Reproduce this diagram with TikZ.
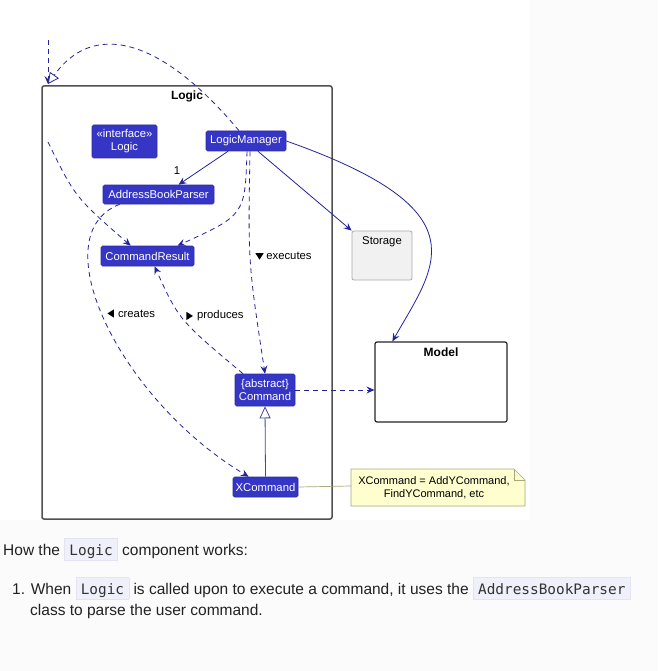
\documentclass[tikz,border=0pt]{standalone}
\usepackage{fontspec}
\setmainfont{Liberation Sans}
\newfontfamily\codefont{DejaVu Sans Mono}
\usetikzlibrary{arrows.meta,positioning,calc,shapes.geometric}

\definecolor{clsblue}{HTML}{3636C6}
\definecolor{linkblue}{HTML}{24249A}
\definecolor{pkgline}{HTML}{505050}
\definecolor{storfill}{HTML}{F1F1F1}
\definecolor{storline}{HTML}{ABABAB}
\definecolor{notefill}{HTML}{FEFECE}
\definecolor{noteline}{HTML}{A8A87C}
\definecolor{codefill}{HTML}{F0F0FA}
\definecolor{codeline}{HTML}{E3E3F1}
\definecolor{pagegray}{HTML}{FBFBFB}
\definecolor{bodytext}{HTML}{222222}

% inline code box
\newcommand{\codeword}[1]{{\setlength{\fboxsep}{0pt}\setlength{\fboxrule}{0.6pt}%
  \fcolorbox{codeline}{codefill}{\rule[-5pt]{0pt}{21pt}\hspace{4.5pt}{\codefont\fontsize{14.4}{16}\selectfont\color{black!80}#1}\hspace{4.5pt}}}}

\tikzset{
  cls/.style={draw=clsblue!80!black, line width=0.6pt, fill=clsblue, text=white,
    rounded corners=1.5pt, inner sep=0pt, align=center, font=\fontsize{11.3}{13}\selectfont},
  lbl/.style={inner sep=1pt, font=\fontsize{11.3}{13}\selectfont},
  boldlbl/.style={inner sep=1pt, font=\bfseries\fontsize{12}{14}\selectfont},
  dirtri/.style={isosceles triangle, isosceles triangle apex angle=65, fill=black,
    inner sep=0pt, minimum size=6.5pt},
  link/.style={draw=linkblue, line width=0.8pt, -{Stealth[length=8pt,width=7pt,inset=3pt]}},
  deplink/.style={link, dash pattern=on 5pt off 4pt},
  reallink/.style={draw=linkblue, line width=0.8pt, dash pattern=on 5pt off 4pt,
    -{Triangle[open,length=11pt,width=11pt,fill=white]}},
  genlink/.style={draw=linkblue!85!white, line width=0.8pt, -{Triangle[open,length=12pt,width=11pt,fill=white]}},
  txt/.style={inner sep=0pt, anchor=base west, text=bodytext, font=\fontsize{15.5}{18}\selectfont}
}

\begin{document}
\begin{tikzpicture}[x=1pt,y=-1pt]
  \useasboundingbox (0,0) rectangle (658,671);
  \fill[pagegray] (0,0) rectangle (658,671);
  \fill[white] (0,0) rectangle (530,520);

  % Logic package
  \node[draw=pkgline, line width=1.5pt, rounded corners=2pt, minimum width=290, minimum height=433] (logicpkg) at (187,302.5) {};
  \node[boldlbl] (logictitle) at (187,96) {Logic};

  % classes
  \node[cls, minimum width=65, minimum height=33] (logicif) at (124.5,141.5) {«interface»\\Logic};
  \node[cls, minimum width=80, minimum height=20] (mgr) at (246,141) {LogicManager};
  \node[cls, minimum width=111, minimum height=19] (parser) at (158.5,194.5) {AddressBookParser};
  \node[cls, minimum width=93, minimum height=20] (result) at (147.5,256) {CommandResult};
  \node[cls, minimum width=60, minimum height=32] (command) at (265,390) {\{abstract\}\\Command};
  \node[cls, minimum width=65, minimum height=20] (xcmd) at (265.5,487) {XCommand};

  % Storage and Model
  \node[draw=storline, fill=storfill, line width=0.8pt, rounded corners=2pt, minimum width=60, minimum height=49] (storage) at (382,255.5) {};
  \node[lbl] (storagetitle) at (382,242) {Storage};
  \node[draw=black!85, line width=1.2pt, rounded corners=2pt, minimum width=132, minimum height=80] (model) at (441,382) {};
  \node[boldlbl] (modeltitle) at (441,352) {Model};

  % note
  \draw[noteline, fill=notefill, line width=0.7pt] (351,469) -- (514,469) -- (525,480) -- (525,506) -- (351,506) -- cycle;
  \draw[noteline, line width=0.7pt] (514,469) -- (514,480) -- (525,480);
  \node[lbl, align=center, font=\fontsize{11}{12.5}\selectfont] (notetext) at (434,487.5) {XCommand = AddYCommand,\\FindYCommand, etc};
  \coordinate (noteleft) at (351,486);
  \draw[noteline, line width=0.7pt] (xcmd.east) -- (noteleft);

  % outside references
  \coordinate (topin) at (48,40);
  \coordinate (pkgcorner) at (48,84);
  \coordinate (outerdep) at (48,142);
  \draw[deplink] (topin) -- (pkgcorner);
  \draw[reallink] ($(mgr.north)+(-7,0)$) .. controls (159,35) and (92,22) .. (pkgcorner);
  \draw[deplink] (outerdep) .. controls (75,197) .. ($(result.north west)+(30,0)$);

  % associations
  \draw[link] ($(mgr.south)+(-18,0)$) -- ($(parser.north)+(20,0)$);
  \node[lbl] (multone) at (177,171) {1};
  \draw[link] ($(mgr.south)+(12,0)$) -- (storage.north west);
  \draw[link] (mgr.east) .. controls (485,211) and (435,266) .. ($(model.north west)+(18,0)$);

  % dependencies
  \draw[deplink] ($(mgr.south)+(1,0)$) .. controls (245,215) .. ($(result.north)+(30,0)$);
  \draw[deplink] ($(mgr.south)+(4,0)$) .. controls (248,262)
    .. node[lbl, pos=0.46, anchor=west, xshift=15pt] (execlbl) {executes} (command.north);
  \draw[deplink] ($(command.north)+(-22,0)$) .. controls (179,320)
    .. node[lbl, pos=0.55, anchor=west, xshift=15pt] (prodlbl) {produces} ($(result.south)+(7,0)$);
  \draw[deplink] ($(parser.south west)+(17,0)$) .. controls (40,235) and (120,400)
    .. node[lbl, pos=0.47, anchor=west, xshift=15pt] (createlbl) {creates} ($(xcmd.north west)+(16,0)$);
  \draw[deplink] (command.east) -- (command.east -| model.west);
  \node[dirtri, shape border rotate=-90, left=2.5pt of execlbl] (execmark) {};
  \node[dirtri, shape border rotate=-35, left=2.5pt of prodlbl] (prodmark) {};
  \node[dirtri, shape border rotate=145, left=2.5pt of createlbl] (createmark) {};

  % inheritance
  \draw[genlink] (xcmd.north) -- (command.south);

  % text below the diagram
  \node[txt] (howline) at (3,555) {How the \codeword{Logic} component works:};
  \node[txt] (stepone) at (12,594) {1. When \codeword{Logic} is called upon to execute a command, it uses the \codeword{AddressBookParser}};
  \node[txt] (steponecont) at (30,615) {class to parse the user command.};
\end{tikzpicture}
\end{document}
